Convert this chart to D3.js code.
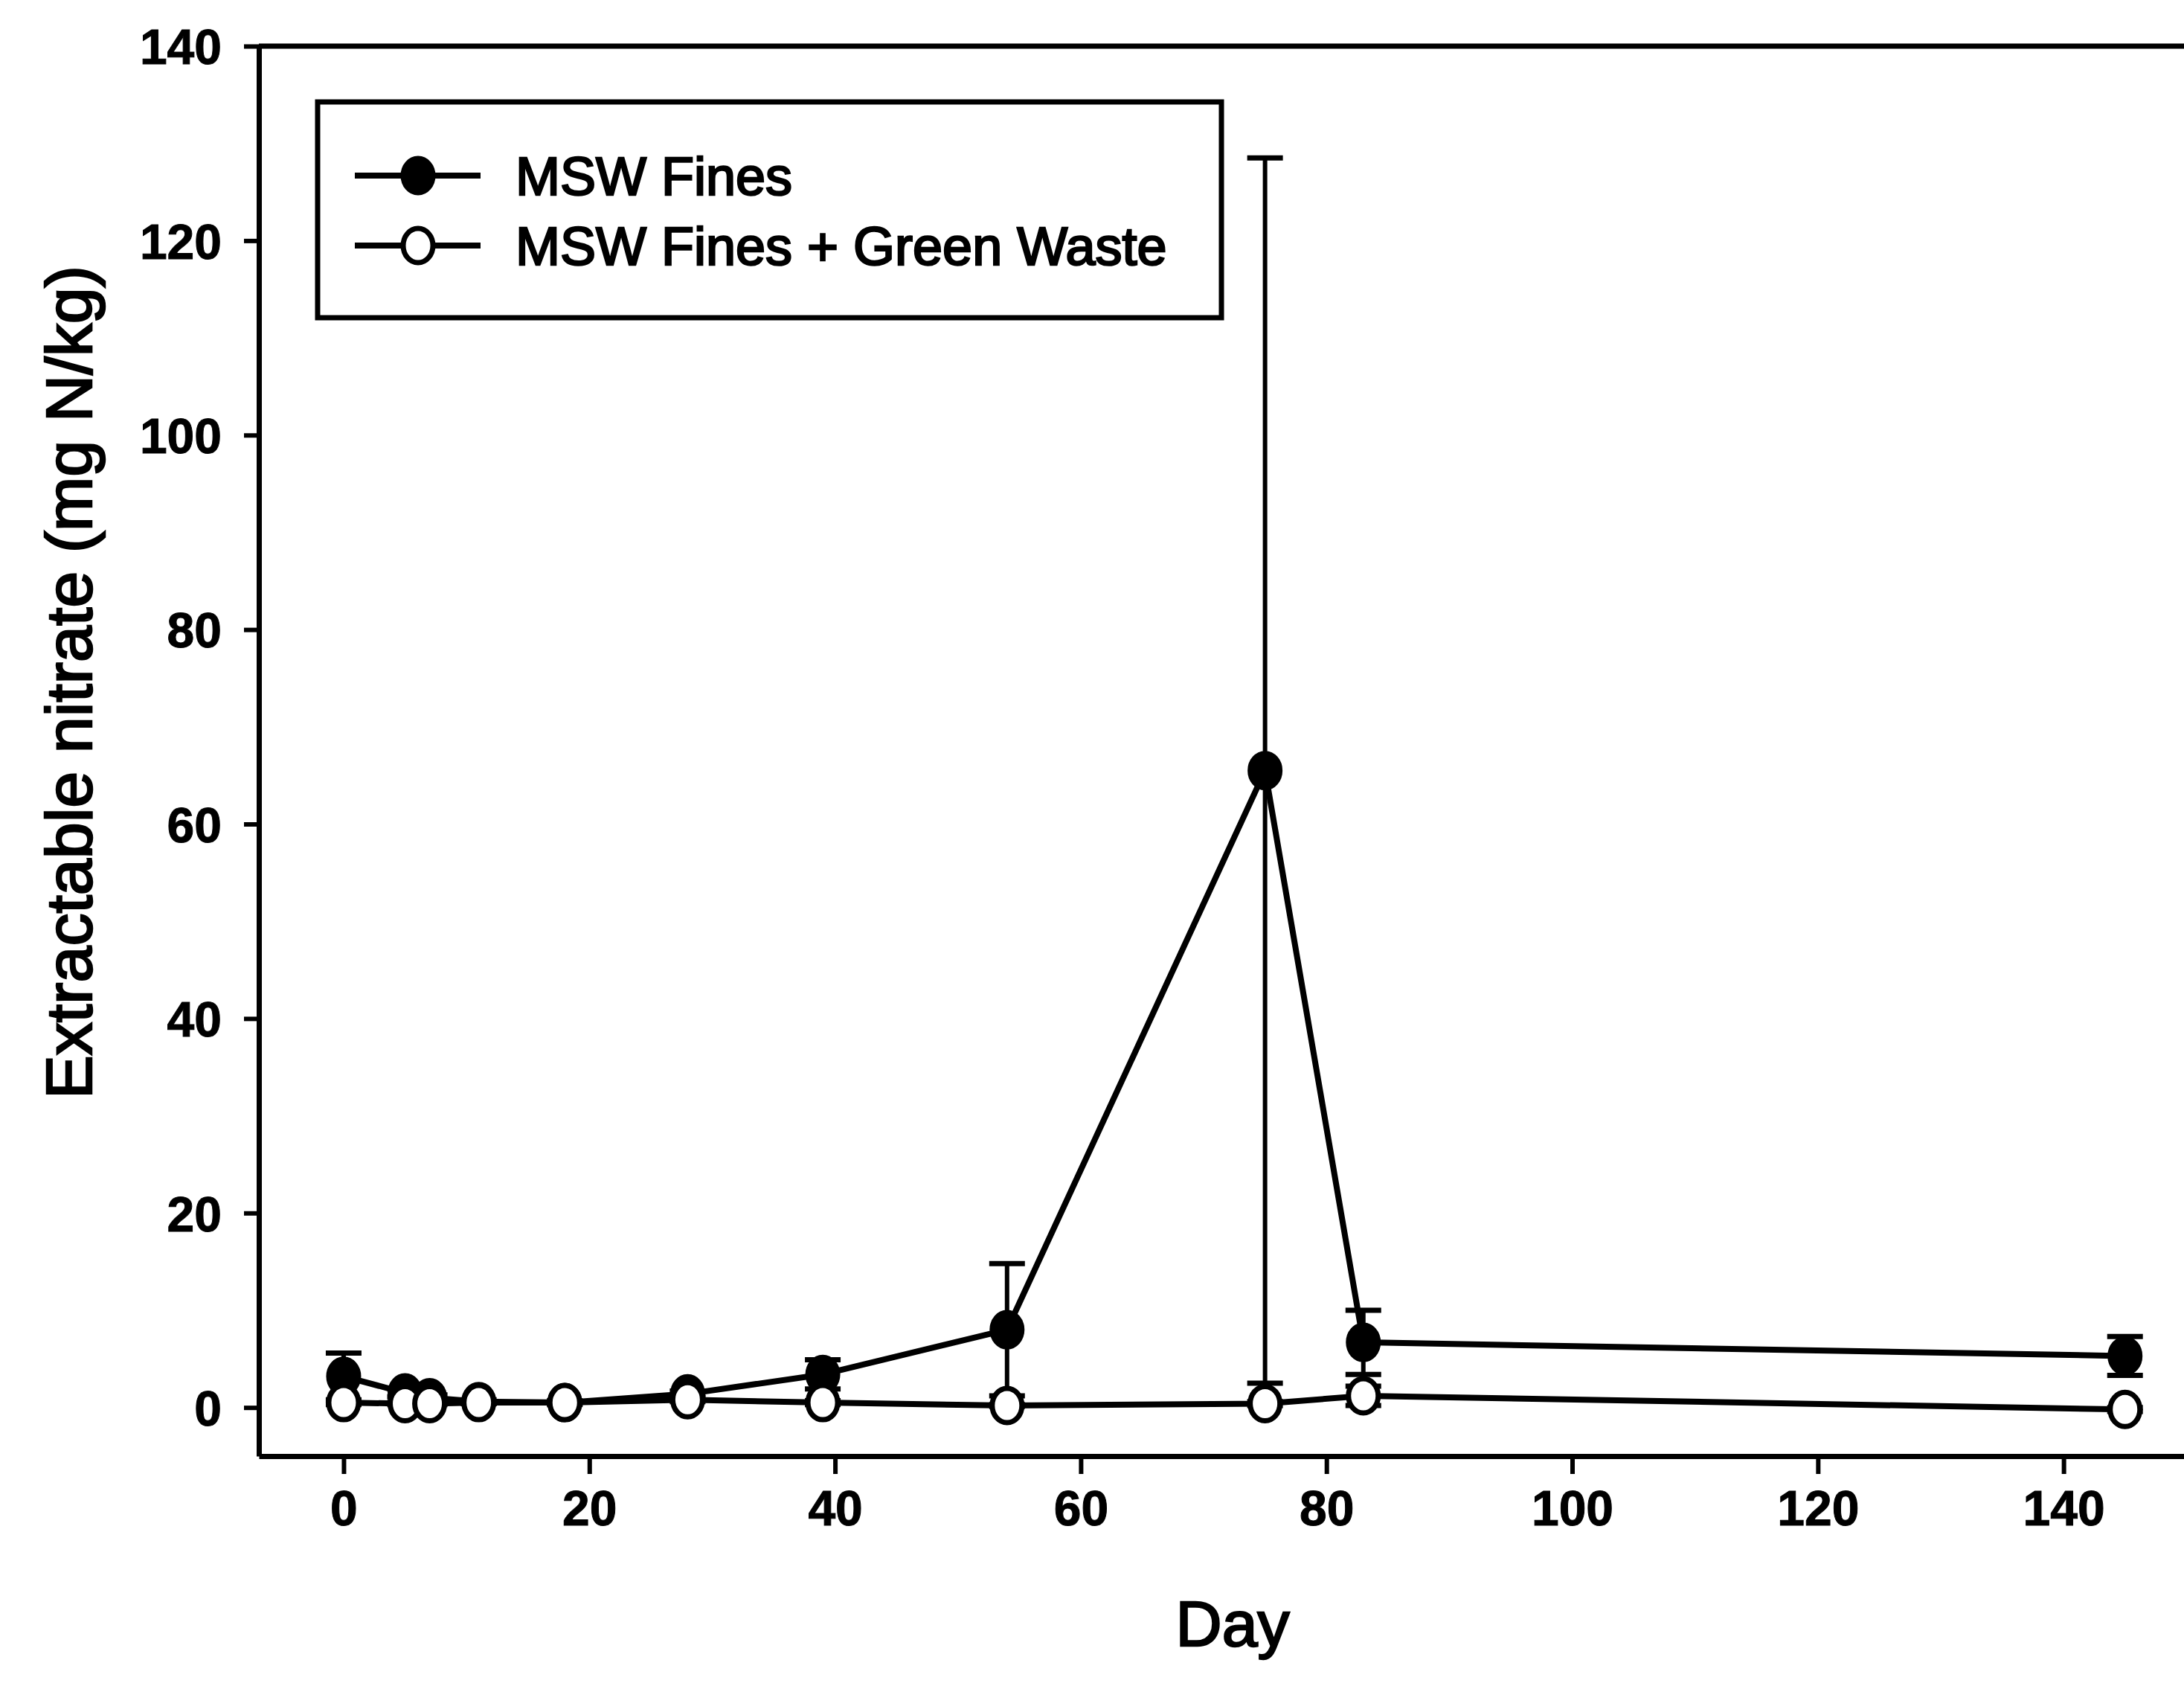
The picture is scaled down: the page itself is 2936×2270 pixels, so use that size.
<!DOCTYPE html>
<html>
<head>
<meta charset="utf-8">
<script src="https://cdn.jsdelivr.net/npm/d3@7"></script>
<style>
  body { margin: 0; background: #fff; }
  svg { display: block; }
  text { font-family: "Liberation Sans", Arial, sans-serif; fill: #000; }
</style>
</head>
<body>
<div id="chart"></div>
<script>
// values
const days = [0, 5, 7, 11, 18, 28, 39, 54, 75, 83, 145];
const mswFines = [3.2, 1.5, 1.0, 0.6, 0.5, 1.4, 3.4, 8.0, 65.5, 6.7, 5.3];
const mswFinesErr = [2.4, 0.4, 0.3, 0.2, 0.2, 0.3, 1.5, 6.8, 63, 3.3, 2.0];
const greenWaste = [0.5, 0.4, 0.4, 0.5, 0.5, 0.8, 0.5, 0.2, 0.4, 1.2, -0.2];
const greenWasteErr = [0.2, 0.1, 0.1, 0.1, 0.1, 0.2, 0.2, 0.1, 0.2, 1.0, 0.2];
const xTicks = [0, 20, 40, 60, 80, 100, 120, 140];
const yTicks = [0, 20, 40, 60, 80, 100, 120, 140];
const seriesNames = ["MSW Fines", "MSW Fines + Green Waste"];

const W = 2936, H = 2270;
const svg = d3.select("#chart").append("svg")
  .attr("width", W)
  .attr("height", H);

const x = d3.scaleLinear().domain([-6.9, 149.8]).range([348, W]);
const y = d3.scaleLinear().domain([-5, 140]).range([1957, 62]);

const series = [
  { name: seriesNames[0], vals: mswFines, err: mswFinesErr, fill: "#000" },
  { name: seriesNames[1], vals: greenWaste, err: greenWasteErr, fill: "#fff" }
];

// frame: top border
svg.append("line")
  .attr("x1", x.range()[0]).attr("x2", x.range()[1])
  .attr("y1", y(140)).attr("y2", y(140))
  .attr("stroke", "#000").attr("stroke-width", 7);

// axes
const xAxis = svg.append("g")
  .attr("transform", "translate(0," + y.range()[0] + ")")
  .call(d3.axisBottom(x).tickValues(xTicks).tickSize(24).tickSizeOuter(0).tickPadding(22));
const yAxis = svg.append("g")
  .attr("transform", "translate(" + x.range()[0] + ",0)")
  .call(d3.axisLeft(y).tickValues(yTicks).tickSize(20).tickSizeOuter(0).tickPadding(30));

[xAxis, yAxis].forEach(a => {
  a.select(".domain").attr("stroke", "#000").attr("stroke-width", 7);
  a.selectAll(".tick line").attr("stroke", "#000").attr("stroke-width", 6);
  a.selectAll(".tick text")
    .attr("font-size", 66)
    .attr("font-weight", "bold")
    .attr("stroke", "#000").attr("stroke-width", 1)
    .attr("fill", "#000");
});
xAxis.selectAll(".tick text").attr("dy", "0.71em");
yAxis.selectAll(".tick text").attr("dy", "0.36em");

// axis titles
svg.append("text")
  .attr("x", 1657).attr("y", 2212)
  .attr("text-anchor", "middle")
  .attr("font-size", 86)
  .attr("stroke", "#000").attr("stroke-width", 2.5)
  .text("Day");

svg.append("text")
  .attr("transform", "translate(92,917) rotate(-90)")
  .attr("text-anchor", "middle")
  .attr("dy", "0.35em")
  .attr("font-size", 88)
  .attr("stroke", "#000").attr("stroke-width", 2.5)
  .text("Extractable nitrate (mg N/kg)");

const line = d3.line()
  .x((d, i) => x(days[i]))
  .y(d => y(d));

const plot = svg.append("g");

series.forEach(s => {
  const g = plot.append("g");

  // error bars
  s.vals.forEach((v, i) => {
    const cx = x(days[i]);
    const lo = y(v - s.err[i]), hi = y(v + s.err[i]);
    g.append("line")
      .attr("x1", cx).attr("x2", cx).attr("y1", lo).attr("y2", hi)
      .attr("stroke", "#000").attr("stroke-width", 6);
    [lo, hi].forEach(yy => {
      g.append("line")
        .attr("x1", cx - 24).attr("x2", cx + 24).attr("y1", yy).attr("y2", yy)
        .attr("stroke", "#000").attr("stroke-width", 7);
    });
  });

  g.append("path")
    .datum(s.vals)
    .attr("fill", "none")
    .attr("stroke", "#000")
    .attr("stroke-width", 8)
    .attr("stroke-linejoin", "round")
    .attr("d", line);

  g.selectAll("ellipse")
    .data(s.vals)
    .enter().append("ellipse")
    .attr("cx", (d, i) => x(days[i]))
    .attr("cy", d => y(d))
    .attr("rx", 20)
    .attr("ry", 23)
    .attr("fill", s.fill)
    .attr("stroke", "#000")
    .attr("stroke-width", 7);
});

// legend
const legend = svg.append("g");
legend.append("rect")
  .attr("x", 427).attr("y", 137)
  .attr("width", 1215).attr("height", 290)
  .attr("fill", "#fff")
  .attr("stroke", "#000").attr("stroke-width", 7);

series.forEach((s, i) => {
  const ly = 236 + i * 94;
  legend.append("line")
    .attr("x1", 477).attr("x2", 646).attr("y1", ly).attr("y2", ly)
    .attr("stroke", "#000").attr("stroke-width", 8);
  legend.append("ellipse")
    .attr("cx", 562).attr("cy", ly).attr("rx", 20).attr("ry", 23)
    .attr("fill", s.fill).attr("stroke", "#000").attr("stroke-width", 7);
  legend.append("text")
    .attr("x", 693).attr("y", ly)
    .attr("dy", "0.36em")
    .attr("font-size", 72)
    .attr("stroke", "#000").attr("stroke-width", 2.5)
    .text(s.name);
});
</script>
</body>
</html>
